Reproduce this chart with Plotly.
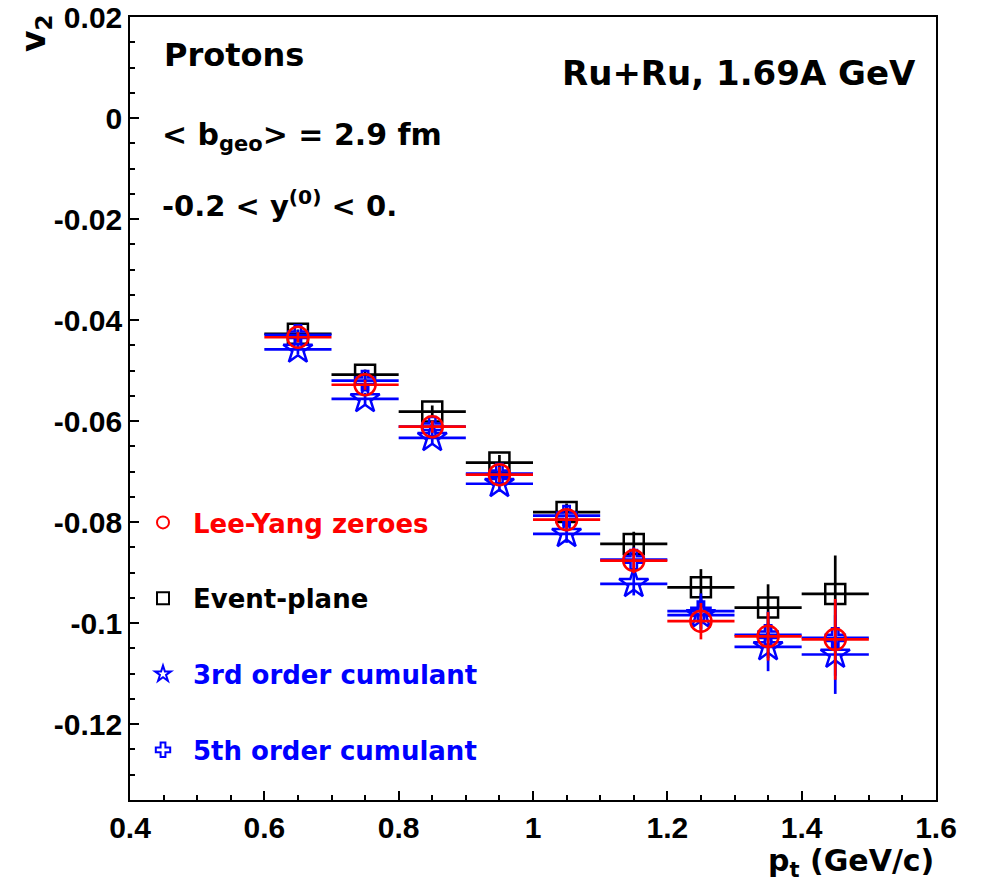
import plotly.graph_objects as go

# ---- data ----
pt = [0.65, 0.75, 0.85, 0.95, 1.05, 1.15, 1.25, 1.35, 1.45]
pt_halfwidth = [0.05] * 9

lyz = [-0.0434, -0.0528, -0.0611, -0.0706, -0.0795, -0.0876, -0.0996, -0.1026, -0.1032]
lyz_err = [0.0010, 0.0010, 0.0012, 0.0015, 0.0018, 0.0025, 0.0036, 0.0048, 0.0080]

ep = [-0.0427, -0.0508, -0.0581, -0.0682, -0.0780, -0.0843, -0.0929, -0.0969, -0.0942]
ep_err = [0.0008, 0.0010, 0.0012, 0.0015, 0.0017, 0.0024, 0.0036, 0.0046, 0.0076]

cum3 = [-0.0458, -0.0556, -0.0633, -0.0724, -0.0823, -0.0922, -0.0984, -0.1047, -0.1062]
cum3_err = [0.0010, 0.0012, 0.0014, 0.0016, 0.0018, 0.0023, 0.0035, 0.0048, 0.0078]

cum5 = [-0.0429, -0.0520, -0.0611, -0.0704, -0.0787, -0.0874, -0.0976, -0.1023, -0.1029]
cum5_err = [0.0010, 0.0010, 0.0012, 0.0015, 0.0018, 0.0024, 0.0035, 0.0046, 0.0075]

xticks = [0.4, 0.6, 0.8, 1.0, 1.2, 1.4, 1.6]
xtick_text = ["0.4", "0.6", "0.8", "1", "1.2", "1.4", "1.6"]
yticks = [0.02, 0.0, -0.02, -0.04, -0.06, -0.08, -0.10, -0.12]
ytick_text = ["0.02", "0", "-0.02", "-0.04", "-0.06", "-0.08", "-0.1", "-0.12"]

TICKFONT = "Liberation Sans"
TEXTFONT = "DejaVu Sans"
RED = "#ff0000"
BLUE = "#0000ff"
BLACK = "#000000"

fig = go.Figure()


def add_series(y, yerr, name, color, symbol, size, rank):
    fig.add_trace(go.Scatter(
        x=pt, y=y, mode="markers",
        name=f'<span style="color:{color}"><b>{name}</b></span>',
        legendgroup=name, legendrank=rank,
        marker=dict(symbol=symbol, size=size, color=color,
                    line=dict(color=color, width=2.5)),
        error_x=dict(type="data", array=pt_halfwidth, color=color,
                     thickness=2.7, width=0),
        error_y=dict(type="data", array=yerr, color=color,
                     thickness=2.7, width=0),
    ))


add_series(ep, ep_err, "Event-plane", BLACK, "square-open", 20, 2)
add_series(cum3, cum3_err, "3rd order cumulant", BLUE, "star-open", 22, 3)
add_series(cum5, cum5_err, "5th order cumulant", BLUE, "cross-open", 16, 4)
add_series(lyz, lyz_err, "Lee-Yang zeroes", RED, "circle-open", 21, 1)

axis_common = dict(
    showgrid=False, zeroline=False, showline=True, linecolor="black",
    linewidth=1.5, mirror=True, ticks="inside", ticklen=9, tickwidth=1.5,
    tickcolor="black", automargin=False,
    tickfont=dict(family=TICKFONT, size=30, color="black", weight="bold"),
)

fig.update_xaxes(range=[0.4, 1.6], tickvals=xticks, ticktext=xtick_text,
                 minor=dict(dtick=0.05, ticks="inside", ticklen=5,
                            tickwidth=1.5, tickcolor="black"),
                 **axis_common)
fig.update_yaxes(range=[-0.135, 0.02], tickvals=yticks, ticktext=ytick_text,
                 minor=dict(dtick=0.005, ticks="inside", ticklen=5,
                            tickwidth=1.5, tickcolor="black"),
                 **axis_common)

L, R, T, B = 130, 45, 17, 87
W, H = 981, 887
pw, ph = W - L - R, H - T - B


def px(xp):
    return (xp - L) / pw


def py(yp):
    return (H - B - yp) / ph


annotations = [
    dict(text="<b>Protons</b>", x=px(162), y=py(55), xanchor="left",
         yanchor="middle", font=dict(size=32)),
    dict(text="<b>&lt; b<sub>geo</sub>&gt; = 2.9 fm</b>", x=px(160), y=py(136),
         xanchor="left", yanchor="middle", font=dict(size=30)),
    dict(text="<b>-0.2 &lt; y<sup>(0)</sup> &lt; 0.</b>", x=px(160), y=py(204),
         xanchor="left", yanchor="middle", font=dict(size=29)),
    dict(text="<b>Ru+Ru, 1.69A GeV</b>", x=px(918), y=py(73), xanchor="right",
         yanchor="middle", font=dict(size=34)),
    dict(text="<b>v<sub>2</sub></b>", x=px(35), y=py(12), xanchor="center",
         yanchor="top", textangle=-90, font=dict(size=33)),
    dict(text="<b>p<sub>t</sub> (GeV/c)</b>", x=px(936), y=py(862),
         xanchor="right", yanchor="middle", font=dict(size=30)),
]
for a in annotations:
    a.update(xref="paper", yref="paper", showarrow=False)
    a["font"].update(family=TEXTFONT, color="black")

fig.update_layout(
    width=W, height=H,
    margin=dict(l=L, r=R, t=T, b=B),
    paper_bgcolor="white", plot_bgcolor="white",
    font=dict(family=TEXTFONT, color="black"),
    annotations=annotations,
    showlegend=True,
    legend=dict(x=px(133), y=py(499), xanchor="left", yanchor="top",
                bgcolor="rgba(0,0,0,0)", borderwidth=0,
                font=dict(family=TEXTFONT, size=26),
                tracegroupgap=39, itemsizing="constant", itemwidth=50),
)

fig.write_html("out.html")
